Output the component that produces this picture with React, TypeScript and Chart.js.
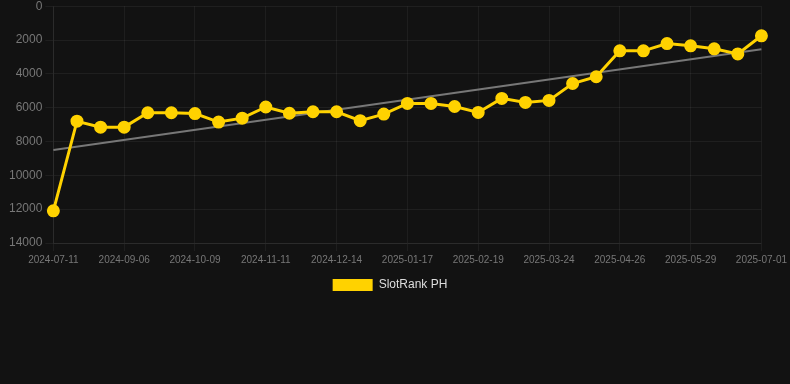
import React, { useEffect, useRef } from "react";
import { Chart, registerables } from "chart.js";

Chart.register(...registerables);

const labels = [
  "2024-07-11", "2024-07-30", "2024-08-18", "2024-09-06", "2024-09-17", "2024-09-28",
  "2024-10-09", "2024-10-20", "2024-10-31", "2024-11-11", "2024-11-22", "2024-12-03",
  "2024-12-14", "2024-12-25", "2025-01-06", "2025-01-17", "2025-01-28", "2025-02-08",
  "2025-02-19", "2025-03-02", "2025-03-13", "2025-03-24", "2025-04-04", "2025-04-15",
  "2025-04-26", "2025-05-07", "2025-05-18", "2025-05-29", "2025-06-09", "2025-06-20",
  "2025-07-01",
];

const rankValues = [
  12100, 6800, 7150, 7150, 6300, 6300, 6350, 6850, 6620, 5960, 6330, 6240,
  6240, 6770, 6380, 5750, 5750, 5930, 6280, 5450, 5690, 5570, 4570, 4170,
  2640, 2640, 2210, 2340, 2520, 2820, 1750,
];

const trendStart = 8500;
const trendEnd = 2540;

const seriesLabel = "SlotRank PH";

export default function App() {
  const ref = useRef<HTMLCanvasElement | null>(null);

  useEffect(() => {
    document.body.style.margin = "0";
    document.body.style.background = "#121212";
    document.body.style.overflow = "hidden";
    const canvas = ref.current;
    if (!canvas) return;
    const trendData: (number | null)[] = labels.map((_, i) =>
      i === 0 ? trendStart : i === labels.length - 1 ? trendEnd : null
    );
    const font = "Liberation Sans, Arial, sans-serif";
    const chart = new Chart(canvas, {
      type: "line",
      data: {
        labels,
        datasets: [
          {
            label: seriesLabel,
            data: rankValues,
            borderColor: "#ffd200",
            backgroundColor: "#ffd200",
            borderWidth: 3,
            pointRadius: 5,
            pointHoverRadius: 6,
            pointBackgroundColor: "#ffd200",
            pointBorderColor: "#ffd200",
            tension: 0,
            order: 1,
          },
          {
            label: "trend",
            data: trendData,
            borderColor: "#777777",
            backgroundColor: "#777777",
            borderWidth: 2,
            pointRadius: 0,
            spanGaps: true,
            order: 2,
          },
        ],
      },
      options: {
        animation: false,
        responsive: true,
        maintainAspectRatio: false,
        plugins: {
          legend: {
            position: "bottom",
            labels: {
              color: "#dddddd",
              font: { size: 12, family: font },
              boxWidth: 40,
              boxHeight: 12,
              filter: (item) => item.text !== "trend",
              generateLabels: (c: any) =>
                Chart.defaults.plugins.legend.labels
                  .generateLabels(c)
                  .map((it: any) => ({ ...it, lineWidth: 0 })),
            },
          },
          tooltip: { enabled: false },
        },
        scales: {
          x: {
            grid: { color: "rgba(255,255,255,0.05)", drawTicks: true },
            border: { color: "rgba(255,255,255,0.05)" },
            ticks: {
              color: "#777777",
              font: { size: 10, family: font },
              maxRotation: 0,
              autoSkip: true,
              maxTicksLimit: 11,
            },
          },
          y: {
            reverse: true,
            min: 0,
            max: 14000,
            afterFit: (scale: any) => {
              scale.width += 16;
            },
            grid: { color: "rgba(255,255,255,0.06)" },
            border: { color: "rgba(255,255,255,0.06)" },
            ticks: {
              stepSize: 2000,
              color: "#777777",
              font: { size: 12, family: font },
              callback: (v: any) => String(v),
            },
          },
        },
      },
    });
    return () => chart.destroy();
  }, []);

  return (
    <div
      style={{
        width: 800,
        height: 305,
        marginLeft: -10,
        marginTop: -4,
        position: "relative",
        background: "#121212",
      }}
    >
      <canvas ref={ref} />
    </div>
  );
}
